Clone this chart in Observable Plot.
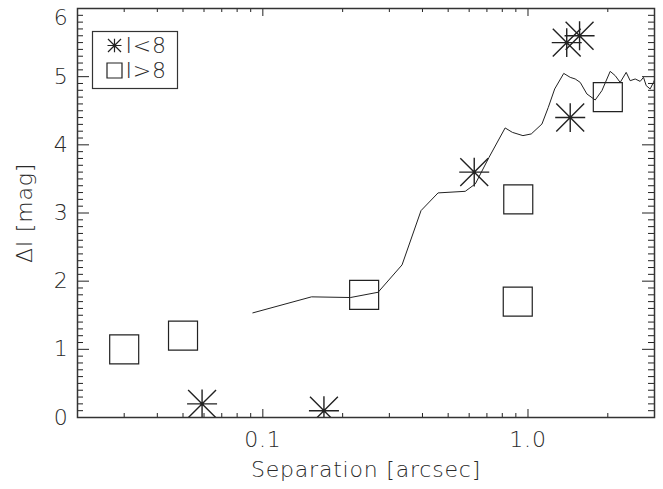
<!DOCTYPE html>
<html>
<head>
<meta charset="utf-8">
<script src="https://cdn.jsdelivr.net/npm/d3@7"></script>
<script src="https://cdn.jsdelivr.net/npm/@observablehq/plot@0.6"></script>
<style>
  html, body { margin: 0; padding: 0; background: #fff; }
  #chart { width: 663px; height: 489px; }
  #chart svg text { font-weight: 200; letter-spacing: 0.8px; }
</style>
</head>
<body>
<div id="chart"></div>
<script>
// Stars: I < 8
const starSep = [0.059, 0.17, 0.627, 1.40, 1.565, 1.443];
const starDI  = [0.2, 0.1, 3.6, 5.50, 5.60, 4.40];
// Squares: I > 8
const sqSep = [0.030, 0.050, 0.241, 0.919, 0.915, 2.0];
const sqDI  = [1.0, 1.2, 1.8, 3.2, 1.7, 4.7];
// Contrast curve
const curveSep = [0.0917, 0.1526, 0.214, 0.272, 0.335, 0.395, 0.458, 0.580, 0.633, 0.713, 0.820, 0.873, 0.957, 1.029, 1.129, 1.193, 1.261, 1.364, 1.443, 1.507, 1.574, 1.668, 1.793, 1.900, 2.042, 2.133, 2.227, 2.346, 2.429, 2.537, 2.649, 2.727, 2.792, 2.889, 2.973, 3.0];
const curveDI  = [1.535, 1.770, 1.760, 1.837, 2.239, 3.035, 3.295, 3.318, 3.427, 3.817, 4.248, 4.183, 4.135, 4.160, 4.306, 4.550, 4.820, 5.048, 4.990, 4.966, 4.916, 4.746, 4.658, 4.795, 5.078, 5.015, 4.916, 5.063, 4.941, 4.966, 4.931, 4.990, 4.868, 4.820, 4.916, 4.95];
// Axes
const xMajor = [0.1, 1];
const xMajorLabels = ["0.1", "1.0"];
const xMinor = [0.03, 0.04, 0.05, 0.06, 0.07, 0.08, 0.09, 0.2, 0.3, 0.4, 0.5, 0.6, 0.7, 0.8, 0.9, 2];
const yMajor = [0, 1, 2, 3, 4, 5, 6];
const yMinor = d3.range(0, 60).map(i => i / 10).filter(v => Math.abs(v - Math.round(v)) > 1e-9);
const xTitle = "Separation [arcsec]";
const yTitle = "ΔI [mag]";
const legendLabels = ["I<8", "I>8"];

const starData = starSep.map((x, i) => ({x, y: starDI[i]}));
const sqData = sqSep.map((x, i) => ({x, y: sqDI[i]}));
const curveData = curveSep.map((x, i) => ({x, y: curveDI[i]}));

const starSymbol = {
  draw(ctx, size) {
    const r = Math.sqrt(size / Math.PI);
    const d = r * 0.93;
    ctx.moveTo(-r, 0); ctx.lineTo(r, 0);
    ctx.moveTo(0, -r * 0.96); ctx.lineTo(0, r * 0.96);
    ctx.moveTo(-d, -d); ctx.lineTo(d, d);
    ctx.moveTo(-d, d); ctx.lineTo(d, -d);
  }
};
const squareSymbol = {
  draw(ctx, size) {
    const r = Math.sqrt(size / Math.PI);
    ctx.moveTo(-r, -r); ctx.lineTo(r, -r); ctx.lineTo(r, r); ctx.lineTo(-r, r); ctx.closePath();
  }
};

const W = 663, H = 489, mL = 77, mR = 9, mT = 8, mB = 72;
const pW = W - mL - mR, pH = H - mT - mB;
const ink = "#222";
const txt = "#2a2a2a";
const fs = 22;
const yTop = yMajor[yMajor.length - 1];

const chart = Plot.plot({
  width: W, height: H,
  marginLeft: mL, marginRight: mR, marginTop: mT, marginBottom: mB,
  style: {fontFamily: "'DejaVu Sans', sans-serif", fontSize: "22px", color: txt, background: "#fff"},
  x: {type: "log", domain: [0.02, 3]},
  y: {domain: [0, 6]},
  marks: [
    // ticks (inward, all four sides)
    Plot.ruleX(xMajor, {x: d => d, insetTop: pH - 8, stroke: ink}),
    Plot.ruleX(xMajor, {x: d => d, insetBottom: pH - 8, stroke: ink}),
    Plot.ruleX(xMinor, {x: d => d, insetTop: pH - 4, stroke: ink}),
    Plot.ruleX(xMinor, {x: d => d, insetBottom: pH - 4, stroke: ink}),
    Plot.ruleY(yMajor, {y: d => d, insetRight: pW - 12, stroke: ink}),
    Plot.ruleY(yMajor, {y: d => d, insetLeft: pW - 12, stroke: ink}),
    Plot.ruleY(yMinor, {y: d => d, insetRight: pW - 6, stroke: ink}),
    Plot.ruleY(yMinor, {y: d => d, insetLeft: pW - 6, stroke: ink}),
    Plot.frame({stroke: "#333", strokeWidth: 1.5}),
    // tick labels
    Plot.axisX({ticks: xMajor, tickSize: 0, tickPadding: 14, tickFormat: d => xMajorLabels[xMajor.indexOf(d)], label: null, fill: txt, fontSize: fs}),
    Plot.axisY({ticks: yMajor.filter(v => v !== yTop), tickSize: 0, tickPadding: 9, tickFormat: d => String(d), label: null, fill: txt, fontSize: fs}),
    Plot.axisY({ticks: [yTop], tickSize: 0, tickPadding: 9, tickFormat: d => String(d), label: null, fill: txt, fontSize: fs, dy: 9}),
    // titles
    Plot.text([xTitle], {frameAnchor: "bottom", dy: 52, text: d => d, fill: txt, fontSize: fs, textAnchor: "middle", lineAnchor: "middle"}),
    Plot.text([yTitle], {frameAnchor: "left", dx: -53, rotate: -90, text: d => d, fill: txt, fontSize: fs, textAnchor: "middle", lineAnchor: "middle"}),
    // data
    Plot.line(curveData, {x: "x", y: "y", stroke: ink, strokeWidth: 1, clip: true}),
    Plot.dot(sqData, {x: "x", y: "y", symbol: squareSymbol, r: 14.5, stroke: ink, strokeWidth: 1.2, fill: "none", clip: true}),
    Plot.dot(starData, {x: "x", y: "y", symbol: starSymbol, r: 15, stroke: ink, strokeWidth: 1.4, fill: "none", clip: true}),
    // legend
    Plot.frame({insetLeft: 15, insetTop: 23, insetRight: 477, insetBottom: 329, stroke: "#333", strokeWidth: 1.2}),
    Plot.dot([0], {frameAnchor: "top-left", dx: 37, dy: 37, symbol: starSymbol, r: 7, stroke: ink, strokeWidth: 1.2}),
    Plot.dot([0], {frameAnchor: "top-left", dx: 37, dy: 62, symbol: squareSymbol, r: 7.5, stroke: ink, strokeWidth: 1.2, fill: "none"}),
    Plot.text([legendLabels[0]], {frameAnchor: "top-left", dx: 48, dy: 37, text: d => d, textAnchor: "start", lineAnchor: "middle", fill: txt, fontSize: fs}),
    Plot.text([legendLabels[1]], {frameAnchor: "top-left", dx: 48, dy: 62, text: d => d, textAnchor: "start", lineAnchor: "middle", fill: txt, fontSize: fs})
  ]
});
document.getElementById("chart").appendChild(chart);
</script>
</body>
</html>
